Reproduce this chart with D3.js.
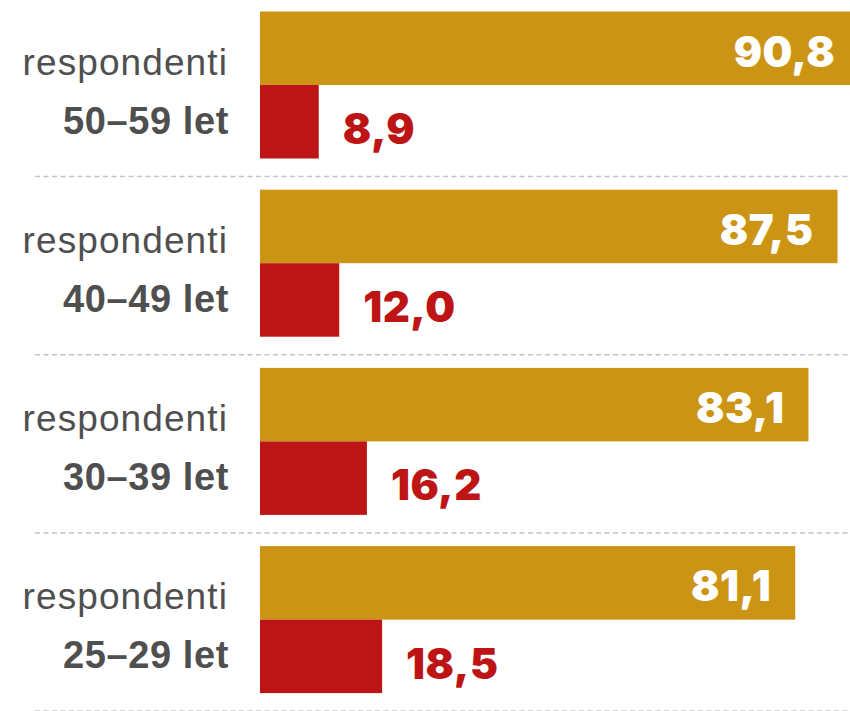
<!DOCTYPE html>
<html>
<head>
    <meta charset="utf-8">
    <script src="https://d3js.org/d3.v7.min.js"></script>
    <title>Respondenti podle věku</title>
    <style type="text/css">
        body {
            margin: 0;
            padding: 0;
            background: #ffffff;
        }
        .cat-top {
            font-family: 'Liberation Sans', Arial, sans-serif;
            font-size: 37px;
            letter-spacing: 1.1px;
            fill: #4f4f4f;
        }
        .cat-bold {
            font-family: 'Liberation Sans', Arial, sans-serif;
            font-size: 38px;
            font-weight: bold;
            letter-spacing: 0.6px;
            fill: #4f4f4f;
        }
        .val {
            font-family: 'Inter', 'DejaVu Sans', sans-serif;
            font-size: 42px;
            font-weight: 900;
            letter-spacing: 0.5px;
        }
    </style>
</head>
<body>
<div id="chart"></div>

<script>
    // data
    let groups = ["50–59 let", "40–49 let", "30–39 let", "25–29 let"];
    let goldValues = [90.8, 87.5, 83.1, 81.1];
    let redValues = [8.9, 12.0, 16.2, 18.5];
    let topLabel = "respondenti";

    let width = 850;
    let height = 711;

    let gold = "#cc9415";
    let red = "#bd1515";

    let czech = d3.formatLocale({decimal: ",", thousands: " ", grouping: [3], currency: ["", " Kč"]});
    let fmt = czech.format(".1f");

    let x = d3.scaleLinear().domain([0, 100]).range([260, 920]);
    let y = d3.scaleBand().domain(groups).range([11.5, 11.5 + 4 * 178.2]);
    let barH = 73.5;

    let svg = d3.select("#chart").append("svg")
        .attr("width", width)
        .attr("height", height);

    let g = svg.selectAll(".group")
        .data(groups)
        .enter().append("g")
        .attr("class", "group")
        .attr("transform", function(d) { return "translate(0," + y(d) + ")"; });

    // gold bars
    g.append("rect")
        .attr("x", x(0))
        .attr("y", 0)
        .attr("width", function(d, i) { return x(goldValues[i]) - x(0); })
        .attr("height", barH)
        .style("fill", gold);

    // red bars
    g.append("rect")
        .attr("x", x(0))
        .attr("y", barH)
        .attr("width", function(d, i) { return x(redValues[i]) - x(0); })
        .attr("height", barH)
        .style("fill", red);

    // value labels
    g.append("text")
        .attr("class", "val")
        .attr("x", function(d, i) { return x(goldValues[i]) - 24; })
        .attr("y", 55)
        .attr("text-anchor", "end")
        .style("fill", "#ffffff")
        .text(function(d, i) { return fmt(goldValues[i]); });

    g.append("text")
        .attr("class", "val")
        .attr("x", function(d, i) { return x(redValues[i]) + 24; })
        .attr("y", barH + 59)
        .style("fill", red)
        .text(function(d, i) { return fmt(redValues[i]); });

    // category labels
    g.append("text")
        .attr("class", "cat-top")
        .attr("x", 228)
        .attr("y", 63)
        .attr("text-anchor", "end")
        .text(topLabel);

    g.append("text")
        .attr("class", "cat-bold")
        .attr("x", 229)
        .attr("y", 122)
        .attr("text-anchor", "end")
        .text(function(d) { return d; });

    // dashed separators
    g.append("line")
        .attr("x1", 35)
        .attr("x2", width)
        .attr("y1", 165)
        .attr("y2", 165)
        .style("stroke", "#c4c4c4")
        .style("stroke-width", 1.5)
        .style("stroke-dasharray", "5,3.5");
</script>
</body>
</html>
